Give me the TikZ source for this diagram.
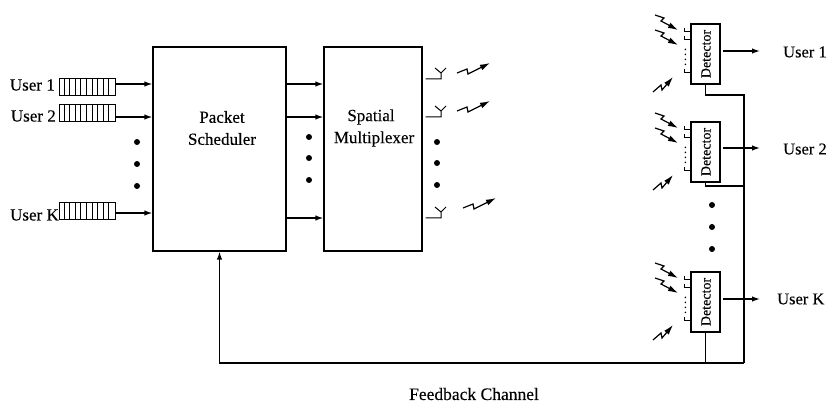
\documentclass[tikz,border=0pt]{standalone}
\usepackage{fontspec}
\setmainfont[FakeBold=0.25]{Liberation Serif}
\usetikzlibrary{arrows.meta,calc}
\tikzset{
 x=1pt,y=-1pt,
 lab/.style={font=\fontsize{17}{19}\selectfont,inner sep=0pt},
 rlab/.style={font=\fontsize{16.5}{19}\selectfont,inner sep=0pt},
 boxn/.style={draw,line width=1.3pt,inner sep=0pt},
 detbox/.style={draw,line width=1.2pt,minimum width=29pt,minimum height=60pt,inner sep=0pt},
 dettext/.style={font=\fontsize{14}{15}\selectfont,rotate=90,inner sep=0pt},
 qbox/.style={draw,line width=1pt,minimum width=56pt,minimum height=17pt,inner sep=0pt},
 conn/.style={line width=1.3pt,-{Latex[length=8pt,width=5.5pt]}},
 wire/.style={line width=1.3pt},
 dotn/.style={circle,fill=black,minimum size=6pt,inner sep=0pt},
 bolt/.style={line width=1.2pt,-{Latex[length=10pt,width=6pt]}},
 stub/.style={line width=1pt},
}
\newcommand{\queuebars}[1]{%
 \foreach \k in {1,...,9}{\draw[line width=.9pt] ($(#1.west)+(\k*5.6,-8.5)$) -- ($(#1.west)+(\k*5.6,8.5)$);}}
\newcommand{\boltout}[2]{\draw[bolt] (#1,#2) -- ++(10,-4) -- ++(1,5) -- ++(22,-11);}
\newcommand{\boltin}[2]{\draw[bolt] (#1,#2) -- ++(9,3) -- ++(-3,3) -- ++(17,9);}
\newcommand{\boltup}[2]{\draw[bolt] (#1,#2) -- ++(8,-7) -- ++(1,5) -- ++(11,-13);}
\begin{document}
\begin{tikzpicture}
\useasboundingbox (0,0) rectangle (827,403);
% main boxes
\node[boxn,minimum width=133pt,minimum height=204pt] (sched) at (219.5,149) {};
\node[boxn,minimum width=98pt,minimum height=204pt] (mux) at (373,149) {};
\node[lab] (t1) at (222,117) {Packet};
\node[lab] (t2) at (222,139) {Scheduler};
\node[lab] (t3) at (371,117) {Spatial};
\node[lab] (t4) at (374,139) {Multiplexer};
% queues
\node[qbox] (q1) at (87,87.5) {};
\node[qbox] (q2) at (87,113.5) {};
\node[qbox] (qk) at (87,211) {};
\queuebars{q1}\queuebars{q2}\queuebars{qk}
\node[lab,anchor=east] (u1) at (55,85) {User 1};
\node[lab,anchor=east] (u2) at (56,116) {User 2};
\node[lab,anchor=east] (uk) at (59,215) {User K};
\foreach \n/\y in {q1/84,q2/117,qk/213}{
 \draw[conn] (\n.east |- 0,\y) -- (sched.west |- 0,\y);}
\foreach \y/\n in {142/a,164/b,186/c}{\node[dotn] (dl\n) at (137,\y) {};}
% scheduler to mux
\foreach \y in {84,117,218}{
 \draw[conn] (sched.east |- 0,\y) -- (mux.west |- 0,\y);}
\foreach \y/\n in {137/a,158/b,180/c}{\node[dotn] (dm\n) at (309,\y) {};}
% antennas
\foreach \y in {79,117,218}{
 \draw[stub] ($(mux.east |- 0,\y)+(3,0)$) -- (441,\y) -- ++(0,-6) -- ++(-6,-5) ++(6,5) -- ++(5,-5);
}
\boltout{457}{73}
\boltout{457}{111}
\boltout{463}{208}
\foreach \y/\n in {142/a,163/b,185/c}{\node[dotn] (dr\n) at (437,\y) {};}
% detectors
\node[detbox] (d1) at (705.5,54) {};
\node[detbox] (d2) at (705.5,152) {};
\node[detbox] (dk) at (705.5,302) {};
\foreach \n in {d1,d2,dk}{
 \node[dettext] at ($(\n.center)+(.5,0)$) {Detector};
 \foreach \d in {8,16,49}{
  \draw[stub] ($(\n.north west)+(0,\d)$) -- ++(-6,0) -- ++(0,-3);}
 \foreach \d in {26,31,36,41}{\fill ($(\n.north west)+(-5,\d)$) circle (.9pt);}
}
\foreach \t in {24,122,272}{
 \boltin{655}{\t-9}
 \boltin{655}{\t+6}
 \boltup{653}{\t+68}
}
\foreach \y/\n in {205/a,227/b,249/c}{\node[dotn] (dd\n) at (712,\y) {};}
% outputs
\node[rlab,anchor=west] (o1) at (783,52) {User 1};
\node[rlab,anchor=west] (o2) at (783,149) {User 2};
\node[rlab,anchor=west] (ok) at (777,299) {User K};
\foreach \n/\y in {d1/51,d2/148,dk/299}{
 \draw[conn,shorten <=2pt] (\n.east |- 0,\y) -- (760,\y);}
% feedback
\coordinate (fbr) at (744,363);
\coordinate (fbt) at (744,95);
\coordinate (fbm) at (744,186);
\draw[wire] (d1.south) |- (fbt) -- (fbr);
\draw[wire] (d2.south) |- (fbm);
\draw[wire] (dk.south) -- (dk.south |- fbr);
\draw[conn] (fbr) -| (sched.south);
\node[lab,font=\fontsize{17.5}{19}\selectfont] (fb) at (474,394) {Feedback Channel};
\end{tikzpicture}
\end{document}
